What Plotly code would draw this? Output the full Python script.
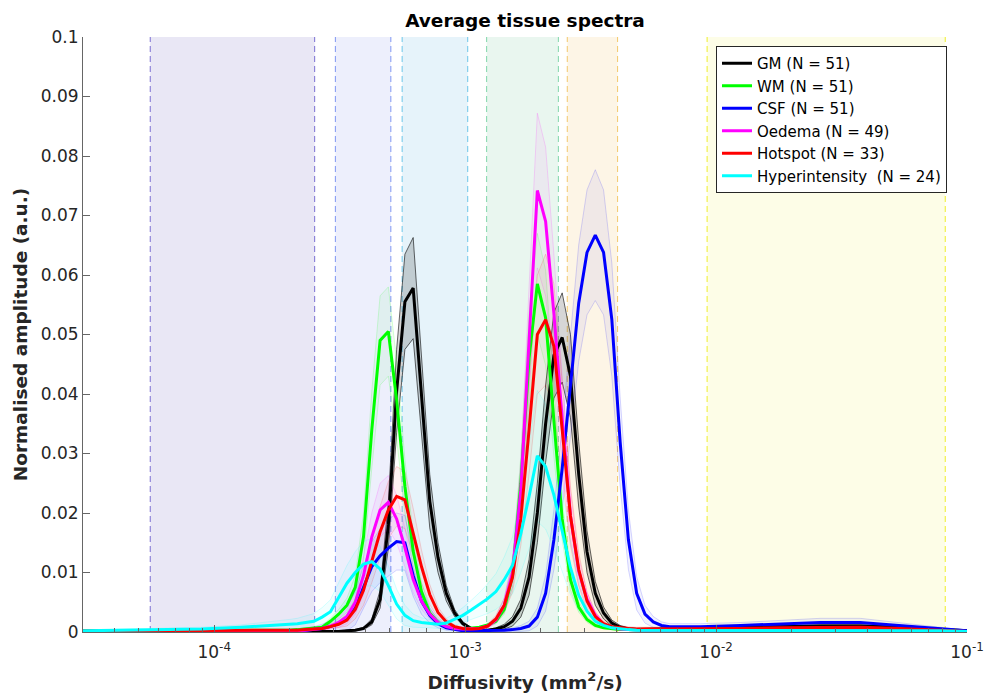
import math
import plotly.graph_objects as go

# ---------------- data ----------------
diffusivity = [3.0e-5, 4.26e-5, 6.15e-5, 8.88e-5, 1.28e-4, 1.685e-4,
               1.987e-4, 2.144e-4, 2.313e-4, 2.496e-4, 2.692e-4, 2.905e-4, 3.134e-4,
               3.381e-4, 3.648e-4, 3.936e-4, 4.247e-4, 4.582e-4, 4.943e-4, 5.333e-4,
               5.754e-4, 6.208e-4, 6.698e-4, 7.227e-4, 7.797e-4, 8.412e-4, 9.076e-4,
               9.792e-4, 1.0565e-3, 1.1399e-3, 1.2298e-3, 1.3268e-3, 1.4315e-3,
               1.5445e-3, 1.6664e-3, 1.7979e-3, 1.9398e-3, 2.0929e-3, 2.2580e-3,
               2.4362e-3, 2.6285e-3, 2.8359e-3, 3.0597e-3, 3.3011e-3, 3.5616e-3,
               3.8427e-3, 4.1459e-3, 4.4731e-3, 4.8261e-3, 5.2069e-3, 5.6178e-3,
               6.0611e-3, 6.5394e-3,
               8.67e-3, 1.251e-2, 1.804e-2, 2.603e-2, 3.755e-2, 5.418e-2, 7.816e-2, 1.0e-1]

gm = [0.0000, 0.0000, 0.0001, 0.0001, 0.0001, 0.0001,
      0.0001, 0.0001, 0.0001, 0.0001, 0.0001, 0.0001, 0.0001, 0.0002, 0.0003, 0.0006, 0.0017, 0.0055, 0.0180, 0.0405,
      0.0555, 0.0578, 0.0400, 0.0220, 0.0125, 0.0065, 0.0032, 0.0014, 0.0006, 0.0003, 0.0003, 0.0005, 0.0009,
      0.0018, 0.0040, 0.0092, 0.0200, 0.0350, 0.0465, 0.0495, 0.0430, 0.0265, 0.0135, 0.0065, 0.0032, 0.0015,
      0.0008, 0.0005, 0.0004, 0.0004, 0.0004, 0.0004, 0.0005,
      0.0006, 0.0008, 0.0009, 0.0010, 0.0010, 0.0008, 0.0004, 0.0002]
gm_sd = [0, 0, 0, 0, 0, 0,
         0, 0, 0, 0, 0, 0, 0, 0.0001, 0.0001, 0.0002, 0.0005, 0.0015, 0.0040, 0.0070,
         0.0080, 0.0085, 0.0070, 0.0045, 0.0025, 0.0013, 0.0006, 0.0003, 0.0002, 0.0001, 0.0001, 0.0002, 0.0004,
         0.0008, 0.0015, 0.0030, 0.0050, 0.0065, 0.0072, 0.0075, 0.0070, 0.0055, 0.0035, 0.0020, 0.0010, 0.0005,
         0.0003, 0.0002, 0.0002, 0.0002, 0.0002, 0.0002, 0.0002,
         0.0002, 0.0002, 0.0002, 0.0002, 0.0002, 0.0002, 0.0001, 0]

wm = [0.0002, 0.0002, 0.0002, 0.0002, 0.0003, 0.0003,
      0.0003, 0.0004, 0.0005, 0.0006, 0.0008, 0.0018, 0.0030, 0.0045, 0.0075, 0.0160, 0.0340, 0.0490, 0.0505, 0.0390,
      0.0245, 0.0136, 0.0068, 0.0032, 0.0016, 0.0009, 0.0006, 0.0005, 0.0006, 0.0008, 0.0012, 0.0018, 0.0038,
      0.0095, 0.0250, 0.0460, 0.0585, 0.0528, 0.0355, 0.0190, 0.0088, 0.0042, 0.0021, 0.0011, 0.0007, 0.0005,
      0.0004, 0.0004, 0.0003, 0.0003, 0.0003, 0.0003, 0.0003,
      0.0003, 0.0003, 0.0003, 0.0004, 0.0004, 0.0003, 0.0002, 0.0001]
wm_sd = [0.0001, 0.0001, 0.0001, 0.0001, 0.0001, 0.0001,
         0.0001, 0.0001, 0.0001, 0.0002, 0.0003, 0.0005, 0.0008, 0.0012, 0.0020, 0.0040, 0.0065, 0.0075, 0.0075, 0.0065,
         0.0045, 0.0028, 0.0015, 0.0008, 0.0004, 0.0002, 0.0001, 0.0001, 0.0001, 0.0001, 0.0002, 0.0004, 0.0008,
         0.0020, 0.0045, 0.0075, 0.0085, 0.0080, 0.0060, 0.0035, 0.0018, 0.0009, 0.0005, 0.0003, 0.0001, 0.0001,
         0.0001, 0.0001, 0.0001, 0.0001, 0.0001, 0.0001, 0.0001,
         0.0001, 0.0001, 0.0001, 0.0001, 0.0001, 0.0001, 0.0001, 0.0001]

csf = [0.0001, 0.0001, 0.0001, 0.0001, 0.0001, 0.0001,
       0.0002, 0.0002, 0.0003, 0.0004, 0.0006, 0.0009, 0.0014, 0.0022, 0.0040, 0.0075, 0.0110, 0.0128, 0.0141, 0.0152,
       0.0150, 0.0095, 0.0052, 0.0028, 0.0014, 0.0007, 0.0004, 0.0002, 0.0002, 0.0002, 0.0002, 0.0002, 0.0003,
       0.0004, 0.0006, 0.0010, 0.0025, 0.0065, 0.0155, 0.0275, 0.0413, 0.0553, 0.0638, 0.0667, 0.0638, 0.0525,
       0.0320, 0.0155, 0.0065, 0.0030, 0.0017, 0.0011, 0.0009,
       0.0009, 0.0011, 0.0014, 0.0016, 0.0016, 0.0011, 0.0005, 0.0002]
csf_sd = [0.0001, 0.0001, 0.0001, 0.0001, 0.0001, 0.0001,
          0.0002, 0.0003, 0.0004, 0.0005, 0.0007, 0.0010, 0.0014, 0.0020, 0.0028, 0.0036, 0.0042, 0.0045, 0.0047, 0.0048,
          0.0046, 0.0035, 0.0022, 0.0013, 0.0007, 0.0004, 0.0002, 0.0002, 0.0002, 0.0002, 0.0002, 0.0002, 0.0002,
          0.0003, 0.0005, 0.0008, 0.0015, 0.0030, 0.0050, 0.0070, 0.0085, 0.0098, 0.0105, 0.0110, 0.0105, 0.0095,
          0.0075, 0.0050, 0.0028, 0.0015, 0.0009, 0.0006, 0.0005,
          0.0005, 0.0005, 0.0006, 0.0007, 0.0007, 0.0005, 0.0003, 0.0001]

oedema = [0.0001, 0.0001, 0.0001, 0.0001, 0.0001, 0.0001,
          0.0002, 0.0002, 0.0003, 0.0004, 0.0006, 0.0010, 0.0016, 0.0026, 0.0050, 0.0095, 0.0160, 0.0205, 0.0218, 0.0190,
          0.0142, 0.0088, 0.0052, 0.0030, 0.0016, 0.0009, 0.0006, 0.0005, 0.0005, 0.0006, 0.0010, 0.0020, 0.0045,
          0.0100, 0.0238, 0.0490, 0.0742, 0.0690, 0.0535, 0.0360, 0.0195, 0.0102, 0.0055, 0.0028, 0.0013, 0.0008,
          0.0005, 0.0004, 0.0003, 0.0003, 0.0003, 0.0003, 0.0003,
          0.0003, 0.0003, 0.0003, 0.0003, 0.0003, 0.0002, 0.0001, 0.0001]
oedema_sd = [0.0001, 0.0001, 0.0001, 0.0001, 0.0001, 0.0001,
             0.0001, 0.0001, 0.0002, 0.0002, 0.0003, 0.0005, 0.0008, 0.0012, 0.0020, 0.0032, 0.0040, 0.0045, 0.0045, 0.0040,
             0.0032, 0.0022, 0.0014, 0.0008, 0.0005, 0.0003, 0.0002, 0.0002, 0.0002, 0.0002, 0.0003, 0.0006, 0.0012,
             0.0025, 0.0050, 0.0090, 0.0130, 0.0125, 0.0100, 0.0070, 0.0042, 0.0023, 0.0012, 0.0006, 0.0003, 0.0002,
             0.0002, 0.0002, 0.0002, 0.0002, 0.0002, 0.0002, 0.0002,
             0.0001, 0.0001, 0.0001, 0.0001, 0.0001, 0.0001, 0.0001, 0.0001]

hotspot = [0.0002, 0.0002, 0.0002, 0.0002, 0.0002, 0.0002,
           0.0003, 0.0003, 0.0004, 0.0005, 0.0006, 0.0009, 0.0013, 0.0020, 0.0038, 0.0070, 0.0118, 0.0168, 0.0205, 0.0228,
           0.0222, 0.0168, 0.0110, 0.0063, 0.0033, 0.0017, 0.0009, 0.0006, 0.0005, 0.0006, 0.0010, 0.0022, 0.0045,
           0.0092, 0.0190, 0.0340, 0.0500, 0.0525, 0.0480, 0.0340, 0.0195, 0.0105, 0.0052, 0.0026, 0.0014, 0.0009,
           0.0007, 0.0006, 0.0005, 0.0005, 0.0005, 0.0005, 0.0005,
           0.0005, 0.0006, 0.0007, 0.0008, 0.0008, 0.0006, 0.0003, 0.0001]
hotspot_sd = [0.0001, 0.0001, 0.0001, 0.0001, 0.0001, 0.0001,
              0.0001, 0.0001, 0.0002, 0.0002, 0.0003, 0.0004, 0.0006, 0.0010, 0.0016, 0.0025, 0.0035, 0.0043, 0.0048, 0.0050,
              0.0048, 0.0040, 0.0028, 0.0017, 0.0009, 0.0005, 0.0003, 0.0002, 0.0002, 0.0002, 0.0003, 0.0006, 0.0012,
              0.0025, 0.0045, 0.0075, 0.0100, 0.0110, 0.0105, 0.0080, 0.0050, 0.0028, 0.0015, 0.0008, 0.0004, 0.0003,
              0.0003, 0.0003, 0.0003, 0.0003, 0.0003, 0.0003, 0.0003,
              0.0003, 0.0003, 0.0003, 0.0003, 0.0003, 0.0003, 0.0002, 0.0001]

hyper = [0.0002, 0.0003, 0.0004, 0.0005, 0.0008, 0.0011,
         0.0013, 0.0014, 0.0016, 0.0018, 0.0025, 0.0034, 0.0058, 0.0082, 0.0100, 0.0114, 0.0118, 0.0106, 0.0078, 0.0047,
         0.0028, 0.0019, 0.0016, 0.0014, 0.0013, 0.0015, 0.0021, 0.0028, 0.0037, 0.0046, 0.0056, 0.0068, 0.0088,
         0.0112, 0.0165, 0.0228, 0.0296, 0.0278, 0.0230, 0.0170, 0.0108, 0.0062, 0.0035, 0.0018, 0.0011, 0.0007,
         0.0005, 0.0004, 0.0003, 0.0003, 0.0003, 0.0003, 0.0003,
         0.0003, 0.0003, 0.0003, 0.0003, 0.0003, 0.0002, 0.0002, 0.0001]
hyper_sd = [0.0001, 0.0002, 0.0002, 0.0003, 0.0004, 0.0006,
            0.0008, 0.0009, 0.0011, 0.0013, 0.0016, 0.0020, 0.0025, 0.0030, 0.0035, 0.0038, 0.0040, 0.0038, 0.0033, 0.0025,
            0.0017, 0.0011, 0.0008, 0.0007, 0.0007, 0.0008, 0.0010, 0.0013, 0.0016, 0.0020, 0.0025, 0.0030, 0.0038,
            0.0048, 0.0065, 0.0088, 0.0110, 0.0105, 0.0090, 0.0068, 0.0045, 0.0027, 0.0015, 0.0008, 0.0005, 0.0003,
            0.0002, 0.0002, 0.0002, 0.0002, 0.0002, 0.0002, 0.0002,
            0.0002, 0.0002, 0.0002, 0.0002, 0.0002, 0.0002, 0.0001, 0.0001]

series_names = ["GM (N = 51)", "WM (N = 51)", "CSF (N = 51)", "Oedema (N = 49)",
                "Hotspot (N = 33)", "Hyperintensity  (N = 24)"]
series_means = [gm, wm, csf, oedema, hotspot, hyper]
series_sds = [gm_sd, wm_sd, csf_sd, oedema_sd, hotspot_sd, hyper_sd]
series_colors = [(0, 0, 0), (0, 255, 0), (0, 0, 255), (255, 0, 255), (255, 0, 0), (0, 255, 255)]

# compartment ranges (shaded vertical bands)
band_lo = [5.56e-5, 3.04e-4, 5.61e-4, 1.218e-3, 2.553e-3, 9.21e-3]
band_hi = [2.514e-4, 5.057e-4, 1.024e-3, 2.353e-3, 4.051e-3, 8.19e-2]
band_fill = ["#E9E7F5", "#EDEFFC", "#E6F3FA", "#E9F6EF", "#FDF5E6", "#FDFDE7"]
band_edge = ["#7A6FD2", "#7F95F2", "#6CC6EA", "#82D6AA", "#F3C86C", "#EFEF2A"]

x_tickvals = [1e-4, 1e-3, 1e-2, 1e-1]
x_ticktext = ["10<sup>-4</sup>", "10<sup>-3</sup>", "10<sup>-2</sup>", "10<sup>-1</sup>"]
y_tickvals = [0, 0.01, 0.02, 0.03, 0.04, 0.05, 0.06, 0.07, 0.08, 0.09, 0.1]
y_ticktext = ["0", "0.01", "0.02", "0.03", "0.04", "0.05", "0.06", "0.07", "0.08", "0.09", "0.1"]
x_range = [3.0e-5, 1.0e-1]
y_range = [0, 0.1]

# ---------------- figure ----------------
FONT = "DejaVu Sans"
AX = "#262626"
AXL = "#666666"
fig = go.Figure()

# standard-deviation envelopes
for name, m, sd, c in zip(series_names, series_means, series_sds, series_colors):
    upper = [a + b for a, b in zip(m, sd)]
    lower = [max(a - b, 0) for a, b in zip(m, sd)]
    if c == (0, 0, 0):
        fillc, linec, lw = "rgba(0,0,0,0.16)", "rgba(0,0,0,0.75)", 0.8
    else:
        fillc = "rgba(%d,%d,%d,0.05)" % c
        linec = "rgba(%d,%d,%d,0.16)" % c
        lw = 1.0
    fig.add_trace(go.Scatter(
        x=diffusivity + diffusivity[::-1], y=upper + lower[::-1],
        mode="lines", fill="toself", fillcolor=fillc,
        line=dict(color=linec, width=lw), showlegend=False, hoverinfo="skip"))

# mean spectra
for name, m, c in zip(series_names, series_means, series_colors):
    fig.add_trace(go.Scatter(
        x=diffusivity, y=m, mode="lines", name=name,
        line=dict(color="rgb(%d,%d,%d)" % c, width=3)))

shapes = []
for lo, hi, fc, ec in zip(band_lo, band_hi, band_fill, band_edge):
    shapes.append(dict(type="rect", xref="x", yref="y", x0=lo, x1=hi, y0=0, y1=0.1,
                       fillcolor=fc, line=dict(width=0), layer="below"))
    for xv in (lo, hi):
        shapes.append(dict(type="line", xref="x", yref="y", x0=xv, x1=xv, y0=0, y1=0.1,
                           line=dict(color=ec, width=1, dash="6px,4px"), layer="below"))

minor_vals = [mm * 10 ** e for e in range(-5, -1) for mm in range(2, 10)
              if x_range[0] <= mm * 10 ** e <= x_range[1]]

fig.update_layout(
    width=989, height=695,
    margin=dict(l=83, r=22, t=37, b=63, autoexpand=False),
    paper_bgcolor="white", plot_bgcolor="white",
    font=dict(family=FONT, color=AX),
    shapes=shapes,
    title=dict(text="Average tissue spectra", x=0.5, xref="paper", xanchor="center",
               y=1 - 21 / 695, yref="container", yanchor="middle",
               font=dict(family=FONT, size=18.5, color="black", weight="bold")),
    legend=dict(x=(716 - 83) / 884, y=(632 - 46) / 595, xanchor="left", yanchor="top",
                bgcolor="white", bordercolor=AX, borderwidth=1,
                font=dict(family=FONT, size=15, color="black"),
                itemwidth=30, tracegroupgap=0),
    showlegend=True,
)
fig.update_xaxes(
    type="log", range=[math.log10(x_range[0]), math.log10(x_range[1])],
    automargin=False,
    tickmode="array", tickvals=x_tickvals, ticktext=x_ticktext,
    ticks="inside", ticklen=7, tickcolor=AXL, tickwidth=1,
    showline=True, linecolor=AXL, linewidth=1, mirror=False,
    showgrid=False, zeroline=False, ticklabelstandoff=5,
    tickfont=dict(family=FONT, size=17, color=AX),
    minor=dict(tickmode="array", tickvals=minor_vals, ticks="inside", ticklen=4,
               tickcolor=AXL, showgrid=False),
    title=dict(text="Diffusivity (mm<sup>2</sup>/s)", standoff=14,
               font=dict(family=FONT, size=18.5, color=AX, weight="bold")),
)
fig.update_yaxes(
    range=y_range, automargin=False,
    tickmode="array", tickvals=y_tickvals, ticktext=y_ticktext,
    ticks="inside", ticklen=7, tickcolor=AXL, tickwidth=1,
    showline=True, linecolor=AXL, linewidth=1, mirror=False,
    showgrid=False, zeroline=False,
    tickfont=dict(family=FONT, size=17, color=AX),
    title=dict(text="Normalised amplitude (a.u.)", standoff=8,
               font=dict(family=FONT, size=18.5, color=AX, weight="bold")),
)

fig.write_html("out.html")
